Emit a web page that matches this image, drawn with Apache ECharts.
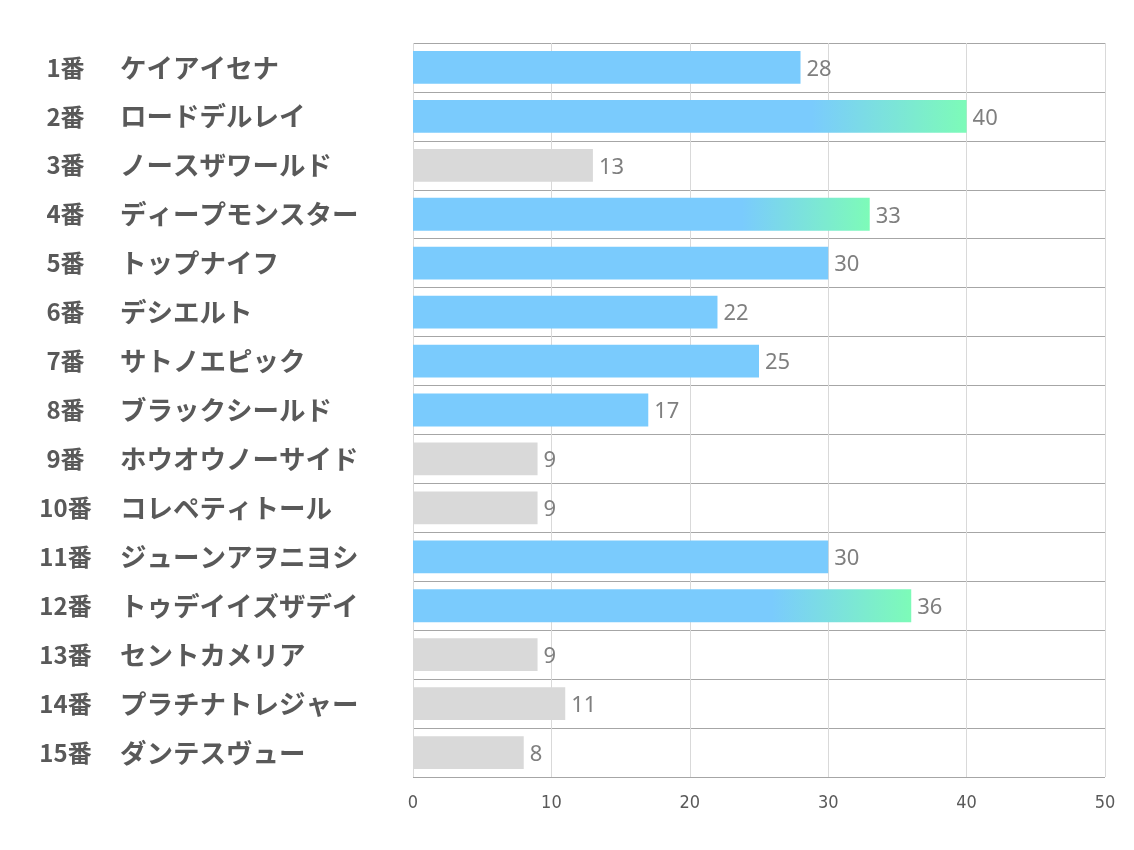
<!DOCTYPE html>
<html>
<head>
<meta charset="utf-8">
<script src="https://cdn.jsdelivr.net/npm/echarts@6/dist/echarts.min.js"></script>
<style>
html,body{margin:0;padding:0;background:#fff;}
#chart{width:1134px;height:850px;}
</style>
</head>
<body>
<div id="chart"></div>
<script>
const numbers = ['1番','2番','3番','4番','5番','6番','7番','8番','9番','10番','11番','12番','13番','14番','15番'];
const names = ['ケイアイセナ','ロードデルレイ','ノースザワールド','ディープモンスター','トップナイフ','デシエルト','サトノエピック','ブラックシールド','ホウオウノーサイド','コレペティトール','ジューンアヲニヨシ','トゥデイイズザデイ','セントカメリア','プラチナトレジャー','ダンテスヴュー'];
const values = [28,40,13,33,30,22,25,17,9,9,30,36,9,11,8];
const groups = ['blue','grad','gray','grad','blue','blue','blue','blue','gray','gray','blue','grad','gray','gray','gray'];
const xTicks = [0,10,20,30,40,50];

const BLUE = '#7acbfd';
const GREEN = '#7dfbb8';
const GRAY = '#d9d9d9';

function colorFor(g){
  if (g === 'gray') return GRAY;
  if (g === 'blue') return BLUE;
  return {type:'linear', x:0, y:0, x2:1, y2:0, colorStops:[
    {offset:0, color:BLUE},{offset:0.72, color:BLUE},{offset:1, color:GREEN}]};
}

const categories = numbers.map((n,i)=> n + '|' + names[i]);

const chart = echarts.init(document.getElementById('chart'));
chart.setOption({
  animation:false,
  grid:{left:413, right:29, top:43, bottom:73, containLabel:false},
  xAxis:{
    type:'value', min:xTicks[0], max:xTicks[xTicks.length-1], interval:10,
    axisLine:{show:false}, axisTick:{show:false},
    splitLine:{show:true, lineStyle:{color:'#d9d9d9', width:1}},
    axisLabel:{color:'#595959', fontSize:18, margin:17, fontFamily:'DejaVu Sans Condensed'}
  },
  yAxis:{
    type:'category', inverse:true, data:categories,
    axisLine:{show:false}, axisTick:{show:false},
    splitLine:{show:true, lineStyle:{color:'#a6a6a6', width:1}},
    axisLabel:{
      align:'left', margin:375,
      formatter:function(v){ const p=v.split('|'); return '{n|'+p[0]+'}{m|'+p[1]+'}'; },
      rich:{
        n:{width:55, align:'right', fontSize:24, fontWeight:'bold', color:'#595959', fontFamily:'Noto Sans CJK JP'},
        m:{padding:[0,0,0,27], align:'left', fontSize:26.5, fontWeight:'bold', color:'#595959', fontFamily:'Noto Sans CJK JP'}
      }
    }
  },
  series:[{
    type:'bar',
    barWidth:'67%',
    data: values.map((v,i)=>({value:v, itemStyle:{color:colorFor(groups[i])}})),
    label:{show:true, position:'right', distance:6, offset:[0,2], color:'#7f7f7f', fontSize:22, fontFamily:'Noto Sans'}
  }]
});
</script>
</body>
</html>
